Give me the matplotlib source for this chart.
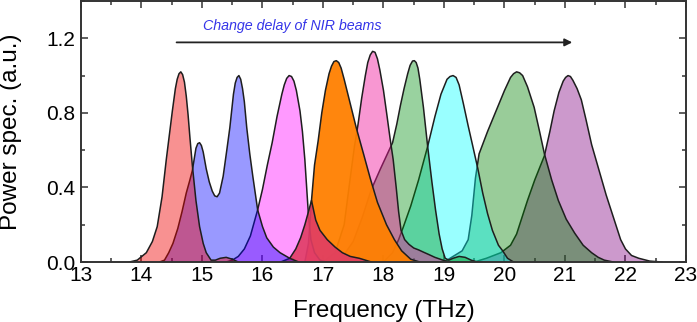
import matplotlib
matplotlib.use("Agg")
import matplotlib.pyplot as plt
from matplotlib.ticker import MultipleLocator, FormatStrFormatter

plt.rcParams['font.family'] = ['Liberation Sans', 'DejaVu Sans']

# ---- data (frequency THz, power a.u.) ----
red_x = [13.80, 13.93, 14.08, 14.18, 14.26, 14.34, 14.41, 14.46, 14.51, 14.56, 14.59, 14.62, 14.65, 14.68,
         14.71, 14.74, 14.77, 14.80, 14.84, 14.90, 14.96, 15.02, 15.07, 15.15, 15.22, 15.30, 15.40, 15.50, 15.60]
red_y = [0.00, 0.01, 0.05, 0.11, 0.19, 0.35, 0.55, 0.68, 0.81, 0.93, 0.98, 1.01, 1.02, 1.005,
         0.965, 0.89, 0.79, 0.67, 0.52, 0.33, 0.19, 0.10, 0.05, 0.01, 0.01, 0.02, 0.025, 0.015, 0.00]

blue_x = [14.30, 14.38, 14.45, 14.52, 14.60, 14.67, 14.74, 14.80, 14.84, 14.87, 14.90, 14.93, 14.96, 14.99,
          15.02, 15.07, 15.12, 15.17, 15.21, 15.25, 15.29, 15.35, 15.41, 15.46, 15.52, 15.55, 15.58, 15.61,
          15.64, 15.67, 15.70, 15.74, 15.79, 15.84, 15.92, 16.00, 16.07, 16.18, 16.29, 16.45, 16.60]
blue_y = [0.00, 0.01, 0.05, 0.10, 0.18, 0.27, 0.37, 0.44, 0.49, 0.55, 0.61, 0.635, 0.64, 0.625,
          0.59, 0.50, 0.43, 0.38, 0.355, 0.35, 0.37, 0.46, 0.60, 0.72, 0.90, 0.96, 0.99, 1.00,
          0.98, 0.93, 0.86, 0.72, 0.58, 0.46, 0.28, 0.19, 0.13, 0.08, 0.05, 0.02, 0.00]

magenta_x = [15.40, 15.50, 15.60, 15.70, 15.80, 15.92, 16.00, 16.08, 16.16, 16.24, 16.32, 16.36, 16.40,
             16.44, 16.48, 16.52, 16.56, 16.62, 16.66, 16.70, 16.73, 16.76, 16.80, 16.86, 16.95, 17.05]
magenta_y = [0.00, 0.01, 0.03, 0.07, 0.14, 0.28, 0.39, 0.52, 0.64, 0.78, 0.90, 0.95, 0.985,
             1.00, 0.995, 0.97, 0.92, 0.81, 0.70, 0.55, 0.40, 0.25, 0.12, 0.05, 0.01, 0.00]

crimson_x = [16.30, 16.45, 16.55, 16.63, 16.70, 16.76, 16.81, 16.85, 16.88, 16.95, 17.07, 17.20, 17.32,
             17.45, 17.60, 17.80]
crimson_y = [0.00, 0.02, 0.07, 0.13, 0.20, 0.27, 0.33, 0.27, 0.225, 0.17, 0.12, 0.08, 0.05,
             0.03, 0.02, 0.00]

orange_x = [16.70, 16.76, 16.81, 16.86, 16.92, 16.98, 17.04, 17.10, 17.14, 17.18, 17.22, 17.26, 17.30,
            17.35, 17.45, 17.55, 17.67, 17.78, 17.90, 18.05, 18.18, 18.30, 18.45, 18.60]
orange_y = [0.00, 0.10, 0.33, 0.52, 0.65, 0.80, 0.92, 1.01, 1.05, 1.075, 1.08, 1.07, 1.04,
            0.98, 0.85, 0.72, 0.58, 0.45, 0.32, 0.20, 0.12, 0.06, 0.015, 0.00]

pink_x = [17.00, 17.20, 17.35, 17.45, 17.52, 17.58, 17.64, 17.70, 17.74, 17.78, 17.82, 17.86, 17.90,
          17.94, 18.00, 18.06, 18.11, 18.16, 18.21, 18.25, 18.29, 18.35, 18.42, 18.50, 18.58, 18.66,
          18.75, 18.85, 19.00, 19.10]
pink_y = [0.00, 0.05, 0.20, 0.45, 0.62, 0.74, 0.88, 1.00, 1.07, 1.11, 1.13, 1.125, 1.09,
          1.03, 0.92, 0.78, 0.66, 0.55, 0.40, 0.27, 0.17, 0.12, 0.095, 0.075, 0.065, 0.053,
          0.04, 0.025, 0.008, 0.00]

green_x = [17.20, 17.35, 17.50, 17.65, 17.80, 17.95, 18.05, 18.15, 18.22, 18.28, 18.34, 18.40, 18.44,
           18.48, 18.51, 18.54, 18.57, 18.60, 18.66, 18.73, 18.80, 18.86, 18.92, 18.97, 19.02, 19.08,
           19.15, 19.25, 19.35, 19.45, 19.55]
green_y = [0.00, 0.04, 0.11, 0.24, 0.39, 0.50, 0.57, 0.64, 0.74, 0.84, 0.93, 1.01, 1.055,
           1.078, 1.08, 1.07, 1.04, 0.98, 0.83, 0.62, 0.43, 0.28, 0.15, 0.07, 0.02, 0.01,
           0.02, 0.03, 0.025, 0.01, 0.00]

cyan_x = [18.00, 18.15, 18.25, 18.33, 18.45, 18.58, 18.73, 18.85, 18.95, 19.05, 19.10, 19.15, 19.20,
          19.25, 19.32, 19.40, 19.47, 19.56, 19.64, 19.72, 19.80, 19.90, 19.97, 20.05, 20.15]
cyan_y = [0.00, 0.05, 0.12, 0.19, 0.30, 0.44, 0.62, 0.78, 0.90, 0.98, 0.995, 1.00, 0.99,
          0.95, 0.85, 0.73, 0.63, 0.50, 0.37, 0.26, 0.17, 0.09, 0.06, 0.02, 0.00]

green2_x = [19.00, 19.15, 19.30, 19.40, 19.46, 19.52, 19.58, 19.72, 19.86, 20.00, 20.10, 20.15, 20.20,
            20.25, 20.30, 20.38, 20.49, 20.58, 20.66, 20.78, 20.89, 21.02, 21.16, 21.30, 21.44, 21.55,
            21.65, 21.80]
green2_y = [0.00, 0.03, 0.06, 0.12, 0.25, 0.45, 0.58, 0.70, 0.81, 0.92, 0.99, 1.01, 1.02,
            1.015, 1.00, 0.94, 0.83, 0.70, 0.58, 0.44, 0.33, 0.23, 0.155, 0.09, 0.05, 0.025,
            0.01, 0.00]

purple_x = [19.50, 19.70, 19.94, 20.10, 20.20, 20.27, 20.38, 20.50, 20.66, 20.75, 20.82, 20.90, 20.97,
            21.01, 21.05, 21.09, 21.13, 21.20, 21.27, 21.35, 21.44, 21.52, 21.60, 21.68, 21.77, 21.85,
            21.92, 22.00, 22.10, 22.22, 22.40, 22.60]
purple_y = [0.00, 0.02, 0.05, 0.09, 0.15, 0.22, 0.33, 0.44, 0.57, 0.70, 0.81, 0.91, 0.97,
            0.99, 1.00, 0.995, 0.975, 0.93, 0.87, 0.76, 0.63, 0.54, 0.45, 0.36, 0.27, 0.19,
            0.12, 0.07, 0.035, 0.02, 0.005, 0.00]

# drawing order (bottom -> top), colour, alpha
layers = [
    (purple_x, purple_y, '#800080', 0.40),
    (green2_x, green2_y, '#008000', 0.40),
    (cyan_x, cyan_y, '#00ffff', 0.40),
    (green_x, green_y, '#009010', 0.40),
    (pink_x, pink_y, '#f0149a', 0.44),
    (orange_x, orange_y, '#ff8000', 0.95),
    (magenta_x, magenta_y, '#ff00ff', 0.40),
    (crimson_x, crimson_y, '#e03c64', 0.90),
    (blue_x, blue_y, '#0000ff', 0.40),
    (red_x, red_y, '#f00000', 0.43),
]

x_ticks = [13, 14, 15, 16, 17, 18, 19, 20, 21, 22, 23]
y_ticks = [0.0, 0.4, 0.8, 1.2]

fig = plt.figure(figsize=(6.97, 3.22), dpi=100)
ax = fig.add_axes([0.1162, 0.1863, 0.868, 0.8106])

for i, (xs, ys, col, a) in enumerate(layers):
    z = 2 + i
    ax.fill_between(xs, ys, 0, facecolor=col, alpha=a, linewidth=0, zorder=z)
    ax.plot(xs, ys, color='#1e1e1e', lw=1.1, zorder=z + 0.5, solid_joinstyle='round')

ax.set_xlim(13, 23)
ax.set_ylim(0, 1.4)
ax.set_xticks(x_ticks)
ax.set_yticks(y_ticks)
ax.xaxis.set_minor_locator(MultipleLocator(0.5))
ax.yaxis.set_minor_locator(MultipleLocator(0.2))
ax.yaxis.set_major_formatter(FormatStrFormatter('%.1f'))
ax.tick_params(which='both', direction='in', top=True, right=True, width=1.1, color='#333333')
ax.tick_params(which='major', length=5, labelsize=15)
ax.tick_params(axis='x', which='major', pad=3)
ax.tick_params(axis='y', which='major', pad=4)
ax.tick_params(which='minor', length=3)
for s in ax.spines.values():
    s.set_linewidth(1.4)
    s.set_color('#333333')
    s.set_zorder(20)

ax.set_xlabel('Frequency (THz)', fontsize=17.5)
ax.set_ylabel('Power spec. (a.u.)', fontsize=17.5)
ax.xaxis.set_label_coords(0.5, -0.146)
ax.yaxis.set_label_coords(-0.0975, 0.5)

ax.annotate('', xy=(21.12, 1.178), xytext=(14.58, 1.178),
            arrowprops=dict(arrowstyle='-|>', color='#222222', lw=1.3, mutation_scale=11,
                            shrinkA=0, shrinkB=0), zorder=30)
ax.text(16.5, 1.265, 'Change delay of NIR beams', style='italic', color='#3535e8',
        fontsize=10.3, ha='center', va='center', zorder=30)

fig.savefig('out.png', dpi=100)
